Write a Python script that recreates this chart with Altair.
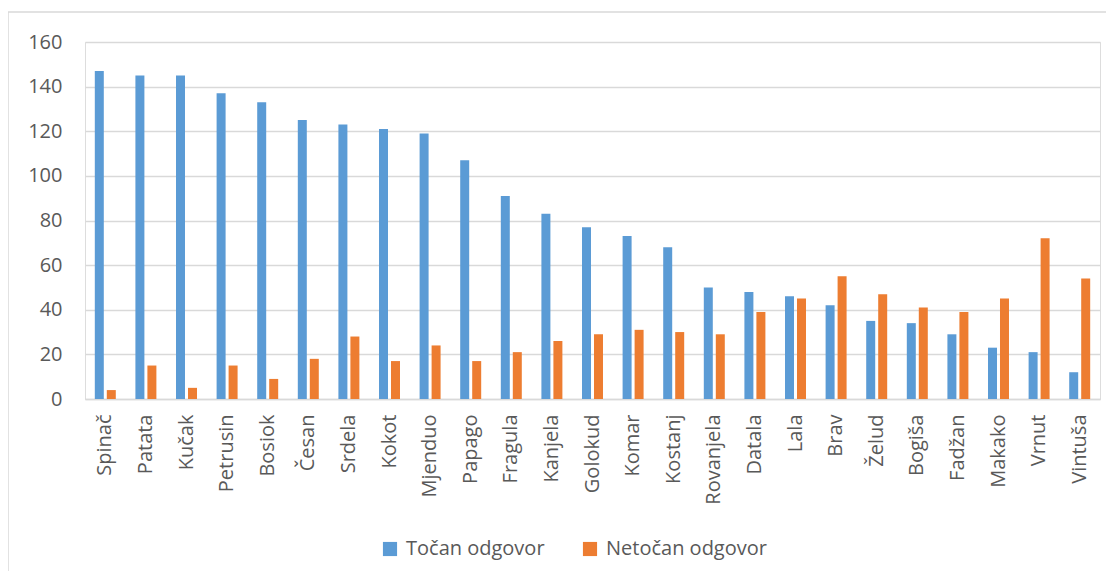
import altair as alt
import pandas as pd

categories = ["Spinač", "Patata", "Kučak", "Petrusin", "Bosiok", "Česan", "Srdela", "Kokot",
              "Mjenduo", "Papago", "Fragula", "Kanjela", "Golokud", "Komar", "Kostanj",
              "Rovanjela", "Datala", "Lala", "Brav", "Želud", "Bogiša", "Fadžan", "Makako",
              "Vrnut", "Vintuša"]
tocan = [147, 145, 145, 137, 133, 125, 123, 121, 119, 107, 91, 83, 77, 73, 68,
         50, 48, 46, 42, 35, 34, 29, 23, 21, 12]
netocan = [4, 15, 5, 15, 9, 18, 28, 17, 24, 17, 21, 26, 29, 31, 30,
           29, 39, 45, 55, 47, 41, 39, 45, 72, 54]
series = ["Točan odgovor", "Netočan odgovor"]
colors = ["#5B9BD5", "#ED7D31"]
y_ticks = [0, 20, 40, 60, 80, 100, 120, 140, 160]

rows = []
for c, a, b in zip(categories, tocan, netocan):
    rows.append({"cat": c, "series": series[0], "value": a, "ord": 0})
    rows.append({"cat": c, "series": series[1], "value": b, "ord": 1})
df = pd.DataFrame(rows)

FONT = "Open Sans"
TXT = "#595959"
GRID = "#d9d9d9"

bars = alt.Chart(df).mark_bar().encode(
    x=alt.X("cat:N", sort=categories,
            scale=alt.Scale(paddingInner=0.483, paddingOuter=0.2415),
            axis=alt.Axis(title=None, labelAngle=-90, ticks=False, labelPadding=15,
                          labelFont=FONT, labelFontSize=20, labelColor=TXT,
                          domainColor=GRID, domainWidth=1.5, labelLimit=200)),
    xOffset=alt.XOffset("series:N", sort=series, scale=alt.Scale(paddingInner=0.25)),
    y=alt.Y("value:Q", scale=alt.Scale(domain=[0, 160], nice=False),
            axis=alt.Axis(title=None, values=y_ticks, ticks=False, domain=False,
                          labelPadding=23, labelFont=FONT, labelFontSize=20,
                          labelColor=TXT, gridColor=GRID, gridWidth=1.5)),
    color=alt.Color("series:N", sort=series,
                    scale=alt.Scale(domain=series, range=colors),
                    legend=alt.Legend(title=None, orient="none", direction="horizontal",
                                      legendX=295, legendY=497,
                                      symbolType="square", symbolSize=200,
                                      symbolStrokeWidth=0, labelLimit=400,
                                      labelFont=FONT, labelFontSize=20, labelColor=TXT,
                                      columnPadding=35, labelOffset=6)),
    order=alt.Order("ord:Q"),
)

border = alt.Chart(pd.DataFrame({"k": [0]})).mark_rect(
    fill=None, stroke=GRID, strokeWidth=1.5, clip=False
).encode(
    x=alt.value(-77), x2=alt.value(1200), y=alt.value(-30), y2=alt.value(700)
)

chart = alt.layer(border, bars).properties(
    width=1015, height=357,
    autosize=alt.AutoSizeParams(type="none"),
    padding={"left": 77, "top": 34, "right": 6, "bottom": 172},
).configure_view(stroke=None).configure(background="white")

chart.save("out.html", embed_options={"renderer": "svg", "actions": False})
